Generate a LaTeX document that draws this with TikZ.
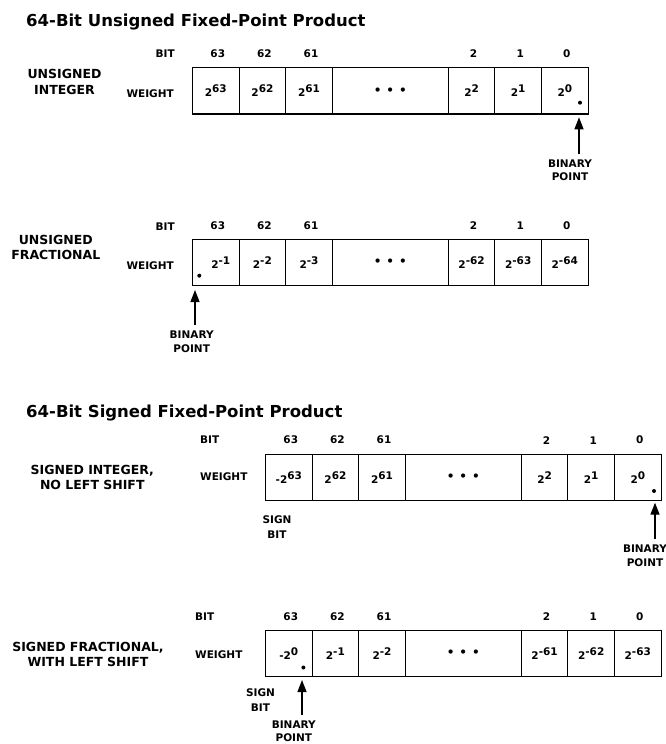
\documentclass[tikz,border=0pt]{standalone}
\usepackage{fontspec}
\setmainfont{DejaVu Sans}
\usetikzlibrary{arrows.meta,positioning}

\newcommand{\pw}[1]{2\raisebox{4pt}{#1}}
\newcommand{\ddd}{{\fontsize{12}{12}\selectfont\textbullet\hspace{5pt}\textbullet\hspace{5pt}\textbullet}}

\begin{document}
\begin{tikzpicture}[
    x=1pt, y=-1pt,
    heading/.style={anchor=base west, inner sep=0pt,
                    font=\fontsize{16.5}{19}\selectfont\bfseries},
    rowlabel/.style={align=center, inner sep=0pt,
                     font=\fontsize{12.5}{15.5}\selectfont\bfseries},
    lbl/.style={inner sep=0pt, font=\fontsize{10.5}{13}\selectfont\bfseries},
    bitno/.style={lbl, above=10pt of #1, xshift=2pt},
    cell/.style={rectangle, draw, line width=1.1pt, minimum width=46.6pt,
                 minimum height=46.3pt, inner sep=0pt, outer sep=0pt,
                 font=\fontsize{10.5}{12}\selectfont\bfseries},
    dotcell/.style={cell, minimum width=116pt},
    bpt/.style={circle, fill, inner sep=0pt, minimum size=4pt},
    signlabel/.style={lbl, align=center,
                      font=\fontsize{10.5}{14.8}\selectfont\bfseries},
    bplabel/.style={lbl, align=center, inner ysep=5.5pt,
                    font=\fontsize{10.5}{13.5}\selectfont\bfseries},
    arrow/.style={-{Triangle[length=12pt, width=9pt]}, line width=1.3pt}
]
\useasboundingbox (0,0) rectangle (666,744);

% unsigned integer
\node[heading] (t1) at (26,26.3) {64-Bit Unsigned Fixed-Point Product};
\node[rowlabel] (ui) at (64.5,81.8) {UNSIGNED\\INTEGER};
\node[lbl, anchor=east] (uibit) at (175,54) {BIT};
\node[lbl, anchor=east] (uiwt) at (174,93.8) {WEIGHT};
\node[cell] (ui63) at (215.8,90.85) {\pw{63}};
\node[cell, right=0pt of ui63] (ui62) {\pw{62}};
\node[cell, right=0pt of ui62] (ui61) {\pw{61}};
\node[dotcell, right=0pt of ui61] (uidd) {\ddd\hspace{14pt}};
\node[cell, right=0pt of uidd] (ui2) {\pw{2}};
\node[cell, right=0pt of ui2] (ui1) {\pw{1}};
\node[cell, right=0pt of ui1] (ui0) {\pw{0}};
\foreach \bitn in {63,62,61,2,1,0}
  \node[bitno=ui\bitn] (ui\bitn n) {\bitn};
\node[bpt] (uidot) at (580,102.7) {};
\coordinate (uitip) at (579,117.3);
\node[bplabel] (uibp) at (570,170.3) {BINARY\\POINT};
\draw[arrow] (uibp.north -| uitip) -- (uitip);

% unsigned fractional
\node[rowlabel] (uf) at (55.8,247.2) {UNSIGNED\\FRACTIONAL};
\node[lbl, anchor=east] (ufbit) at (175,226.5) {BIT};
\node[lbl, anchor=east] (ufwt) at (174,266) {WEIGHT};
\node[cell] (uf63) at (215.8,262.55) {\hspace{10pt}\pw{-1}};
\node[cell, right=0pt of uf63] (uf62) {\pw{-2}};
\node[cell, right=0pt of uf62] (uf61) {\pw{-3}};
\node[dotcell, right=0pt of uf61] (ufdd) {\ddd\hspace{14pt}};
\node[cell, right=0pt of ufdd] (uf2) {\pw{-62}};
\node[cell, right=0pt of uf2] (uf1) {\pw{-63}};
\node[cell, right=0pt of uf1] (uf0) {\pw{-64}};
\foreach \bitn in {63,62,61,2,1,0}
  \node[bitno=uf\bitn] (uf\bitn n) {\bitn};
\node[bpt] (ufdot) at (199.3,275.7) {};
\coordinate (uftip) at (195,290);
\node[bplabel] (ufbp) at (191.7,341.7) {BINARY\\POINT};
\draw[arrow] (ufbp.north -| uftip) -- (uftip);

% signed integer
\node[heading] (t2) at (26,417.7) {64-Bit Signed Fixed-Point Product};
\node[rowlabel] (si) at (92.3,477.6) {SIGNED INTEGER,\\NO LEFT SHIFT};
\node[lbl, anchor=west] (sibit) at (200,439.5) {BIT};
\node[lbl, anchor=west] (siwt) at (200,476.7) {WEIGHT};
\node[cell] (si63) at (288.8,477.35) {-\pw{63}};
\node[cell, right=0pt of si63] (si62) {\pw{62}};
\node[cell, right=0pt of si62] (si61) {\pw{61}};
\node[dotcell, right=0pt of si61] (sidd) {\ddd};
\node[cell, right=0pt of sidd] (si2) {\pw{2}};
\node[cell, right=0pt of si2] (si1) {\pw{1}};
\node[cell, right=0pt of si1] (si0) {\pw{0}};
\foreach \bitn in {63,62,61,2,1,0}
  \node[bitno=si\bitn] (si\bitn n) {\bitn};
\node[signlabel] (sisign) at (277,526.8) {SIGN\\BIT};
\node[bpt] (sidot) at (654,491) {};
\coordinate (sitip) at (655,502.7);
\node[bplabel] (sibp) at (645,555.5) {BINARY\\POINT};
\draw[arrow] (sibp.north -| sitip) -- (sitip);

% signed fractional
\node[rowlabel] (sf) at (88,654.2) {SIGNED FRACTIONAL,\\WITH LEFT SHIFT};
\node[lbl, anchor=west] (sfbit) at (195,617) {BIT};
\node[lbl, anchor=west] (sfwt) at (195,655) {WEIGHT};
\node[cell] (sf63) at (288.8,653.7) {-\pw{0}\hspace{4pt}};
\node[cell, right=0pt of sf63] (sf62) {\pw{-1}};
\node[cell, right=0pt of sf62] (sf61) {\pw{-2}};
\node[dotcell, right=0pt of sf61] (sfdd) {\ddd};
\node[cell, right=0pt of sfdd] (sf2) {\pw{-61}};
\node[cell, right=0pt of sf2] (sf1) {\pw{-62}};
\node[cell, right=0pt of sf1] (sf0) {\pw{-63}};
\foreach \bitn in {63,62,61,2,1,0}
  \node[bitno=sf\bitn] (sf\bitn n) {\bitn};
\node[signlabel] (sfsign) at (260.5,699.8) {SIGN\\BIT};
\node[bpt] (sfdot) at (303.4,667.5) {};
\coordinate (sftip) at (302,680);
\node[bplabel] (sfbp) at (293.8,731.2) {BINARY\\POINT};
\draw[arrow] (sfbp.north -| sftip) -- (sftip);
\end{tikzpicture}
\end{document}
